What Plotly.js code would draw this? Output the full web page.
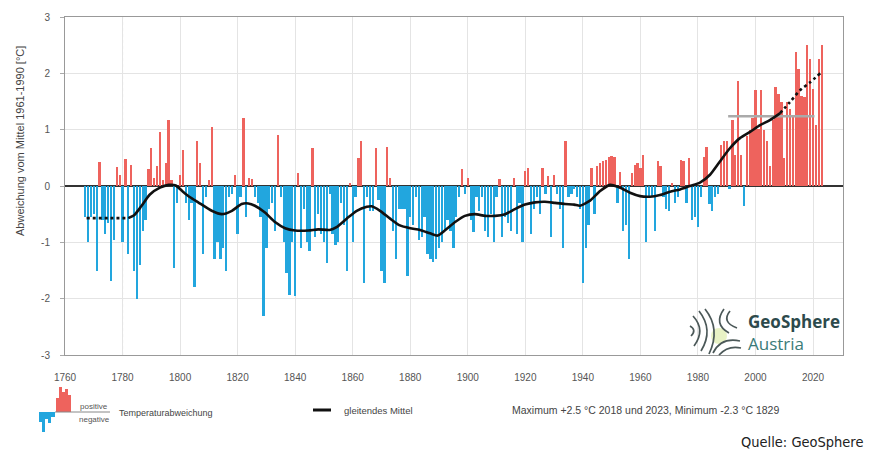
<!DOCTYPE html>
<html><head><meta charset="utf-8">
<script src="https://cdn.plot.ly/plotly-3.0.1.min.js"></script>
<style>html,body{margin:0;padding:0;background:#fff}#chart{width:874px;height:450px}</style>
</head><body><div id="chart"></div>
<script>
// ---------- DATA ----------
const startYear = 1767;
// Annual temperature anomaly vs 1961-1990 mean [°C], 1767..2023
const anomalies = [
  -0.55, -1.0, -0.55,                                         // 1767-1769
  -0.5, -1.5, 0.42, -0.6, -0.85, -0.65, -1.68, -0.95, 0.33, 0.2, // 1770s
  -1.0, 0.48, -1.2, 0.38, -1.5, -2.0, -1.4, -0.8, -0.6, 0.3,   // 1780s
  0.68, 0.15, 0.35, 0.96, 0.1, 0.4, 1.17, 0.1, -1.45, -0.3,    // 1790s
  0.2, 0.64, -0.3, -0.6, -0.3, -1.8, 0.8, 0.4, -1.2, -0.2,     // 1800s
  0.1, 1.05, -1.3, -1.0, -1.3, -1.1, -1.5, -0.2, -0.15, 0.2,   // 1810s
  -0.85, -0.2, 1.2, -0.55, 0.15, 0.12, -0.2, -0.3, -0.55, -2.3, // 1820s
  -1.1, -0.4, -0.3, -0.8, 0.9, -0.2, -1.0, -1.55, -1.93, -1.0, // 1830s
  -1.96, 0.23, -1.1, -0.4, -1.0, -1.15, 0.67, -0.9, -0.5, -0.85, // 1840s
  -1.0, -1.37, -0.15, -0.85, -1.05, -1.0, -0.3, -0.7, -1.5, 0.05, // 1850s
  -1.0, -0.2, 0.5, 0.8, -1.72, -0.2, -0.45, -0.45, 0.67, -0.25, // 1860s
  -1.5, -1.72, 0.7, 0.15, -0.8, -1.3, -0.4, -0.4, -0.4, -1.6,  // 1870s
  -0.55, -0.7, -0.2, -0.95, -0.9, -0.55, -1.2, -1.3, -1.35, -1.3, // 1880s
  -1.1, -1.0, -0.8, -0.6, -0.8, -1.1, -0.55, -0.2, 0.3, -0.15, // 1890s
  0.15, -0.6, -0.82, -0.2, -0.45, -0.2, -0.8, -0.9, -0.5, -1.0, // 1900s
  -0.2, 0.12, -0.9, -0.55, -0.65, -0.8, 0.15, -0.85, -0.3, -1.0, // 1910s
  0.27, 0.32, -0.85, -0.4, -0.2, -0.5, 0.32, -0.15, 0.18, -0.9, // 1920s
  0.2, -0.15, -0.4, -1.1, 0.8, -0.2, -0.15, -0.05, -0.2, -0.4, // 1930s
  -1.72, -1.1, -0.7, 0.32, -0.5, 0.35, 0.4, 0.45, 0.47, 0.52,  // 1940s
  0.53, 0.52, -0.3, 0.25, -0.8, -0.7, -1.3, 0.23, 0.38, 0.4,   // 1950s
  0.32, 0.55, -1.0, -0.2, -0.2, -0.8, 0.44, 0.35, -0.2, -0.4,  // 1960s
  -0.45, 0.05, -0.3, -0.2, 0.47, 0.44, -0.3, 0.5, -0.6, -0.55, // 1970s
  -0.73, -0.2, 0.52, 0.7, -0.32, -0.44, -0.2, -0.15, 0.73, 0.8, // 1980s
  0.8, -0.05, 1.17, 0.55, 1.87, 0.55, -0.35, 0.88, 1.0, 1.2,   // 1990s
  1.7, 1.02, 1.7, 1.0, 0.8, 0.35, 1.17, 1.75, 1.64, 1.49,      // 2000s
  0.5, 1.5, 1.37, 1.25, 2.37, 2.08, 1.6, 1.58, 2.5, 2.25,      // 2010s
  1.72, 1.08, 2.25, 2.5                                        // 2020-2023
];
// Smoothed curve ("gleitendes Mittel")
const smoothYears = [1767.5, 1775, 1782, 1784, 1786.5, 1789.5, 1793, 1796, 1798.5, 1801, 1803.5,
  1806.3, 1811, 1814.5, 1818, 1821.4, 1823.7, 1826, 1829.5, 1833, 1836.5,
  1840, 1844.6, 1848, 1852, 1854.4, 1857.9, 1861.4, 1864.9, 1866.6, 1869.5,
  1873, 1876.4, 1880, 1883.4, 1886.9, 1889.5, 1892, 1895.6, 1899, 1902.5,
  1906, 1909.5, 1913, 1916.4, 1919.9, 1923.4, 1926.8, 1930.3, 1933.8, 1937,
  1939, 1942.5, 1946, 1949.4, 1953, 1956.4, 1959.9, 1963.3, 1966.8, 1970.3,
  1973.8, 1977.2, 1980.7, 1984.2, 1987.7, 1991.1, 1994.6, 1998.1, 2001.6, 2005,
  2008.5, 2012, 2015.5, 2019, 2022.5];
const smoothValues = [-0.57, -0.57, -0.57, -0.52, -0.36, -0.15, -0.03, 0.02, 0.01, -0.1, -0.2,
  -0.29, -0.44, -0.5, -0.44, -0.32, -0.31, -0.35, -0.47, -0.64, -0.75,
  -0.79, -0.79, -0.77, -0.78, -0.73, -0.58, -0.44, -0.37, -0.36, -0.44,
  -0.58, -0.7, -0.75, -0.78, -0.84, -0.88, -0.79, -0.64, -0.53, -0.5,
  -0.53, -0.53, -0.5, -0.41, -0.33, -0.29, -0.28, -0.3, -0.32, -0.33,
  -0.35, -0.26, -0.09, 0.02, -0.03, -0.12, -0.18, -0.19, -0.16, -0.1,
  -0.06, 0.0, 0.06, 0.2, 0.44, 0.67, 0.85, 0.96, 1.08, 1.17,
  1.29, 1.49, 1.7, 1.84, 2.0];
const solidStart = 1782, solidEnd = 2008.5;
const refPeriod = [1991, 2020];   // 1991-2020 mean
const refValue = 1.24;
const xTickVals = [1760, 1780, 1800, 1820, 1840, 1860, 1880, 1900, 1920, 1940, 1960, 1980, 2000, 2020];
const yTickVals = [-3, -2, -1, 0, 1, 2, 3];

// ---------- STYLE ----------
const RED = '#ee635d', BLUE = '#22a6de';
const years = anomalies.map((_, i) => startYear + i);
const colors = anomalies.map(v => v >= 0 ? RED : BLUE);

function seg(f) {
  const xs = [], ys = [];
  smoothYears.forEach((y, i) => { if (f(y)) { xs.push(y); ys.push(smoothValues[i]); } });
  return {xs, ys};
}
const sA = seg(y => y <= solidStart), sB = seg(y => y >= solidStart && y <= solidEnd), sC = seg(y => y >= solidEnd);

const lineStyle = (dash) => ({color: '#111', width: 2.6, dash: dash, shape: 'spline', smoothing: 0.6});
const traces = [
  {type: 'bar', x: years, y: anomalies, width: 0.8, marker: {color: colors, line: {width: 0}}, hoverinfo: 'x+y'},
  {type: 'scatter', mode: 'lines', x: [refPeriod[0] - 0.5, refPeriod[1] + 0.5], y: [refValue, refValue],
   line: {color: '#aaaaaa', width: 2.5}, hoverinfo: 'skip'},
  {type: 'scatter', mode: 'lines', x: sA.xs, y: sA.ys, line: lineStyle('dot'), hoverinfo: 'skip'},
  {type: 'scatter', mode: 'lines', x: sB.xs, y: sB.ys, line: lineStyle('solid'), hoverinfo: 'skip'},
  {type: 'scatter', mode: 'lines', x: sC.xs, y: sC.ys, line: lineStyle('dot'), hoverinfo: 'skip'}
];

// pixel -> paper helpers (plot area: x 65..843, y 17..355)
const L = 65, R = 843, T = 17, B = 355;
const X = px => (px - L) / (R - L);
const Y = py => (B - py) / (B - T);
function pathPx(cmds) {
  return cmds.map(c => c[0] + ' ' + c.slice(1).map((v, i) => i % 2 === 0 ? X(v).toFixed(5) : Y(v).toFixed(5)).join(' ')).join(' ');
}
const rectPx = (x0, y0, x1, y1, color) => ({type: 'rect', xref: 'paper', yref: 'paper', x0: X(x0), x1: X(x1), y0: Y(y1), y1: Y(y0), fillcolor: color, line: {width: 0}});
const linePx = (x0, y0, x1, y1, color, w) => ({type: 'line', xref: 'paper', yref: 'paper', x0: X(x0), x1: X(x1), y0: Y(y0), y1: Y(y1), line: {color, width: w}});

const shapes = [
  {type: 'line', xref: 'x', yref: 'paper', x0: 1780, x1: 1780, y0: 0, y1: 1, line: {color: '#9a9a9a', width: 1, dash: 'dot'}, layer: 'below'},
  // legend icon
  rectPx(56, 398, 59, 412, RED), rectPx(59, 387, 62, 412, RED), rectPx(62, 392, 65, 412, RED),
  rectPx(65, 389, 68, 412, RED), rectPx(68, 395, 71, 412, RED),
  rectPx(39, 412, 42, 422, BLUE), rectPx(42, 412, 45, 432, BLUE), rectPx(45, 412, 48, 419, BLUE),
  rectPx(48, 412, 51, 423, BLUE), rectPx(51, 412, 55, 417, BLUE),
  linePx(55, 412, 110, 412, '#888', 1),
  // gleitendes Mittel legend line
  linePx(313, 410, 331, 410, '#111', 3),
  // logo glow + swirls
  {type: 'circle', xref: 'paper', yref: 'paper', x0: X(711), x1: X(727), y0: Y(344), y1: Y(328), fillcolor: 'rgba(214,232,150,0.55)', line: {width: 0}}
];
const swirl = [
  [['M', 693, 316], ['Q', 706, 330, 694, 346]],
  [['M', 699, 311], ['Q', 714, 330, 701, 351]],
  [['M', 705, 309], ['Q', 721, 329, 709, 354]],
  [['M', 690, 326], ['Q', 697, 330, 691, 336]],
  [['M', 724, 309], ['Q', 713, 324, 729, 333]],
  [['M', 730, 311], ['Q', 721, 322, 737, 328]],
  [['M', 713, 353], ['Q', 721, 337, 740, 341]],
  [['M', 719, 355], ['Q', 728, 345, 741, 348]]
];
swirl.forEach(p => shapes.push({type: 'path', xref: 'paper', yref: 'paper', path: pathPx(p), line: {color: '#4b5858', width: 1.7}}));

const F = 'Liberation Sans, Arial, sans-serif';
const ann = (text, px, py, size, color, xanchor, extra) => Object.assign({
  text, xref: 'paper', yref: 'paper', x: X(px), y: Y(py), xanchor: xanchor || 'left', yanchor: 'middle',
  showarrow: false, font: {family: F, size, color}
}, extra || {});

const annotations = [
  ann('Abweichung vom Mittel 1961-1990 [°C]', 20, 141, 11, '#444', 'center', {textangle: -90}),
  ann('positive', 94, 406, 8, '#555', 'center'),
  ann('negative', 94, 419, 8, '#555', 'center'),
  ann('Temperaturabweichung', 117, 413, 9, '#444'),
  ann('gleitendes Mittel', 342, 410, 9.5, '#444'),
  ann('Maximum +2.5 °C 2018 und 2023, Minimum -2.3 °C 1829', 510, 410, 10.5, '#444'),
  ann('Quelle: GeoSphere', 865, 442, 14.5, '#222', 'right', {font: {family: 'Liberation Sans Narrow, DejaVu Sans Condensed, Arial Narrow, sans-serif', size: 14.5, color: '#222'}}),
  ann('<b>GeoSphere</b>', 746, 321, 17, '#2d4a4c', 'left', {font: {family: 'Open Sans, Liberation Sans, sans-serif', size: 17, color: '#2d4a4c'}}),
  ann('Austria', 746, 343, 17, '#3a7b78', 'left', {font: {family: 'Open Sans, Liberation Sans, sans-serif', size: 17, color: '#3a7b78'}})
];

const layout = {
  width: 874, height: 450,
  margin: {l: L, r: 874 - R, t: T, b: 450 - B},
  paper_bgcolor: '#fff', plot_bgcolor: '#fff',
  showlegend: false, bargap: 0,
  xaxis: {
    range: [1760, 1760 + (R - L) / 2.877], tickvals: xTickVals, ticktext: xTickVals.map(String),
    showgrid: true, gridcolor: '#e4e4e4', gridwidth: 1, zeroline: false,
    showline: true, mirror: true, linecolor: '#999', linewidth: 1,
    ticks: 'outside', ticklen: 13, tickcolor: 'rgba(0,0,0,0)',
    tickfont: {family: F, size: 10, color: '#555'}
  },
  yaxis: {
    range: [-3, 3], tickvals: yTickVals, ticktext: yTickVals.map(String),
    showgrid: true, gridcolor: '#e4e4e4', gridwidth: 1,
    zeroline: true, zerolinecolor: '#333', zerolinewidth: 1.5,
    showline: true, mirror: true, linecolor: '#999', linewidth: 1,
    ticks: 'outside', ticklen: 4, tickcolor: '#aaa', ticklabelstandoff: 8,
    tickfont: {family: F, size: 10, color: '#555'}
  },
  shapes, annotations
};

Plotly.newPlot('chart', traces, layout, {displayModeBar: false, staticPlot: true});
</script>
</body></html>
